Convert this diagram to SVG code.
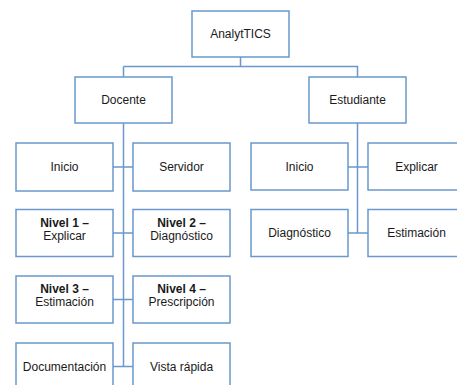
<svg xmlns="http://www.w3.org/2000/svg" width="457" height="385" viewBox="0 0 457 385">
<style>
.box{fill:#fff;stroke:#6a98cc;stroke-width:1.5}
.ln{fill:none;stroke:#6a98cc;stroke-width:1.5}
text{font-family:"Liberation Sans",Arial,sans-serif;font-size:12px;fill:#1a1a1a;text-anchor:middle}
.b{font-weight:bold}
</style>
<rect width="457" height="385" fill="#fff"/>
<g id="connectors">
<path class="ln" d="M240.5 57V66.5M123.5 66.5H357.5V77M123.5 66.5V77"/>
<path class="ln" d="M123.5 123V366.5M113 167H133M113 233H133M113 299.5H133M113 366.5H133"/>
<path class="ln" d="M357.5 123V233M348 167H368M348 233H368"/>
</g>
<g id="analyttics"><rect class="box" x="192" y="11" width="97" height="46"/><text x="240.5" y="38">AnalytTICS</text></g>
<g id="docente"><rect class="box" x="75" y="77" width="97" height="46"/><text x="123.5" y="104">Docente</text></g>
<g id="estudiante"><rect class="box" x="309" y="77" width="97" height="46"/><text x="357.5" y="104">Estudiante</text></g>
<g id="d-inicio"><rect class="box" x="16" y="143" width="97" height="48"/><text x="64.5" y="171">Inicio</text></g>
<g id="d-servidor"><rect class="box" x="133" y="143" width="97" height="48"/><text x="181.5" y="171">Servidor</text></g>
<g id="d-nivel1"><rect class="box" x="16" y="209.5" width="97" height="47"/><text x="64.5" y="226.5" class="b">Nivel 1 –</text><text x="64.5" y="239.5">Explicar</text></g>
<g id="d-nivel2"><rect class="box" x="133" y="209.5" width="97" height="47"/><text x="181.5" y="226.5" class="b">Nivel 2 –</text><text x="181.5" y="239.5">Diagnóstico</text></g>
<g id="d-nivel3"><rect class="box" x="16" y="276" width="97" height="47"/><text x="64.5" y="293" class="b">Nivel 3 –</text><text x="64.5" y="306">Estimación</text></g>
<g id="d-nivel4"><rect class="box" x="133" y="276" width="97" height="47"/><text x="181.5" y="293" class="b">Nivel 4 –</text><text x="181.5" y="306">Prescripción</text></g>
<g id="d-documentacion"><rect class="box" x="16" y="343" width="97" height="47"/><text x="64.5" y="370.5">Documentación</text></g>
<g id="d-vista"><rect class="box" x="133" y="343" width="97" height="47"/><text x="181.5" y="370.5">Vista rápida</text></g>
<g id="e-inicio"><rect class="box" x="251" y="143" width="97" height="47"/><text x="299.5" y="171">Inicio</text></g>
<g id="e-explicar"><rect class="box" x="368" y="143" width="97" height="47"/><text x="416.5" y="171">Explicar</text></g>
<g id="e-diagnostico"><rect class="box" x="251" y="209.5" width="97" height="47"/><text x="299.5" y="237">Diagnóstico</text></g>
<g id="e-estimacion"><rect class="box" x="368" y="209.5" width="97" height="47"/><text x="416.5" y="237">Estimación</text></g>
</svg>
